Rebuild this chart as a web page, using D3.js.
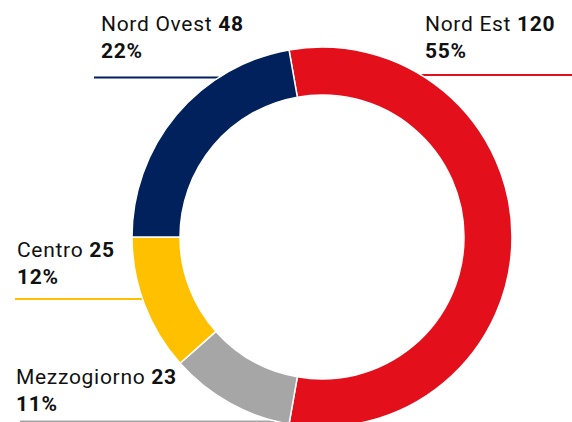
<!DOCTYPE html>
<html>
<head>
<meta charset="utf-8">
<script src="https://cdn.jsdelivr.net/npm/d3@7"></script>
<style>
  body { margin: 0; background: #fff; }
  svg { display: block; font-family: Roboto, "Noto Sans", sans-serif; }
</style>
</head>
<body>
<div id="donut"></div>
<script>
// Data, clockwise from the top
const regions = ["Nord Est", "Mezzogiorno", "Centro", "Nord Ovest"];
const values = [120, 23, 25, 48];
const percents = ["55%", "11%", "12%", "22%"];
const colors = ["#e30f1b", "#a6a6a6", "#ffc000", "#00215c"];

const width = 572, height = 422;
const cx = 322, cy = 237, outerR = 190, innerR = 142;

// label placement (text x, first baseline, leader line y, line side)
const labelLayout = {
  "Nord Est":    {x: 425, y: 31,  lineY: 75,  lineX: 572, side: "right"},
  "Nord Ovest":  {x: 101, y: 31,  lineY: 77.5, lineX: 94, side: "left"},
  "Centro":      {x: 17,  y: 257, lineY: 299, lineX: 15, side: "left"},
  "Mezzogiorno": {x: 16,  y: 384, lineY: 421.5, lineX: 20, side: "left"}
};

const svg = d3.select("#donut")
  .append("svg")
    .attr("width", width)
    .attr("height", height);

const data = regions.map((r, i) => ({region: r, value: values[i], pct: percents[i], color: colors[i]}));

const pie = d3.pie()
  .sort(null)
  .value(d => d.value)
  .startAngle(-10 * Math.PI / 180)
  .endAngle(350 * Math.PI / 180);

const arc = d3.arc()
  .innerRadius(innerR)
  .outerRadius(outerR);

// leader lines go behind the ring
const lines = svg.append("g");
data.forEach(d => {
  const l = labelLayout[d.region];
  const dy = l.lineY - cy;
  const dx = Math.sqrt(Math.max(0, outerR * outerR - dy * dy));
  const edge = l.side === "right" ? cx + dx : cx - dx;
  lines.append("line")
    .attr("x1", l.lineX)
    .attr("x2", edge)
    .attr("y1", l.lineY)
    .attr("y2", l.lineY)
    .attr("stroke", d.color)
    .attr("stroke-width", 2);
});

svg.append("g")
    .attr("transform", `translate(${cx},${cy})`)
  .selectAll("path")
  .data(pie(data))
  .join("path")
    .attr("d", arc)
    .attr("fill", d => d.data.color)
    .attr("stroke", "#fff")
    .attr("stroke-width", 1.5);

// labels
const labels = svg.append("g")
    .attr("font-size", 21)
    .attr("letter-spacing", 0.7)
    .attr("fill", "#111");
data.forEach(d => {
  const l = labelLayout[d.region];
  const t = labels.append("text")
    .attr("x", l.x)
    .attr("y", l.y);
  t.append("tspan").text(d.region + " ");
  t.append("tspan").attr("font-weight", "bold").text(d.value);
  labels.append("text")
    .attr("x", l.x)
    .attr("y", l.y + 27)
    .attr("font-weight", "bold")
    .text(d.pct);
});
</script>
</body>
</html>
